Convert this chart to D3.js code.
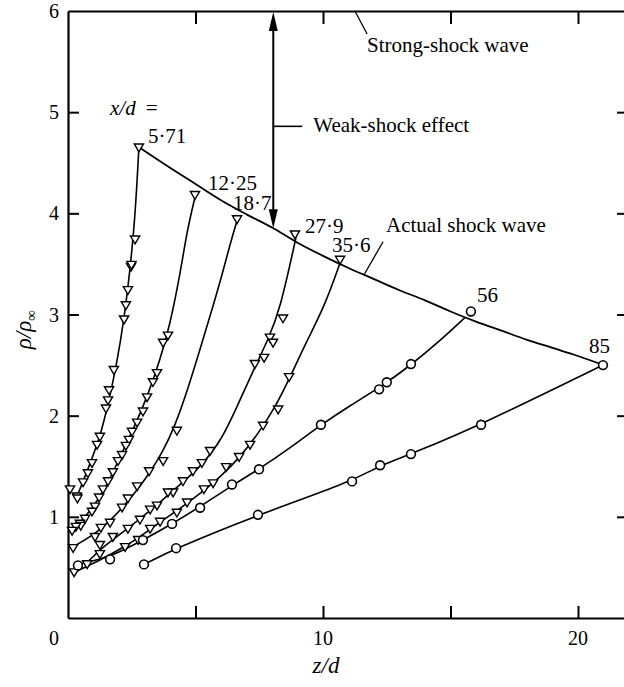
<!DOCTYPE html>
<html>
<head>
<meta charset="utf-8">
<script src="https://cdn.jsdelivr.net/npm/d3@7"></script>
<style>
  html, body { margin: 0; padding: 0; background: #fff; }
  svg { display: block; font-family: "Liberation Serif", "Times New Roman", serif; }
</style>
</head>
<body>
<svg id="chart" width="624" height="687"></svg>
<script>
// Density ratio rho/rho_inf across the flow (z/d) at several downstream stations x/d.

const xTicks = [5, 10, 15, 20];
const xTickLabels = [0, 10, 20];
const yTicks = [1, 2, 3, 4, 5];
const yTickLabels = [1, 2, 3, 4, 5, 6];

// Actual shock front, [z/d, rho/rho_inf]
const shockFront = [[2.80, 4.65], [4.0, 4.45], [5.0, 4.29], [6.0, 4.13], [7.0, 3.99], [8.0, 3.86],
  [9.0, 3.71], [10.0, 3.58], [11.0, 3.46], [12.0, 3.35], [13.0, 3.24], [14.0, 3.14], [15.0, 3.03],
  [16.0, 2.93], [17.0, 2.84], [18.0, 2.75], [19.0, 2.67], [20.0, 2.59], [21.0, 2.50]];

// Strong-shock limit and the z/d where the weak-shock effect is marked
const strongShockRho = 6;
const weakShockZ = 8.05;

// Station x/d = 5.71
const pts571 = [[2.78, 4.65], [2.63, 3.74], [2.47, 3.47], [2.49, 3.49], [2.35, 3.24], [2.27, 3.09],
  [2.20, 2.95], [1.80, 2.45], [1.61, 2.25], [1.57, 2.15], [1.49, 2.07], [1.25, 1.79], [1.14, 1.71],
  [0.94, 1.53], [0.78, 1.43], [0.59, 1.34], [0.35, 1.20], [0.37, 1.18], [0.08, 1.27]];
const fit571 = [[0.35, 1.20], [0.78, 1.47], [1.25, 1.78], [1.57, 2.11], [1.88, 2.47], [2.20, 2.95],
  [2.43, 3.44], [2.63, 3.95], [2.78, 4.65]];

// Station x/d = 12.25
const pts1225 = [[4.98, 4.18], [3.92, 2.79], [3.73, 2.72], [3.49, 2.42], [3.33, 2.33], [3.10, 2.18],
  [2.94, 2.04], [2.71, 1.93], [2.51, 1.84], [2.39, 1.76], [2.27, 1.70], [2.12, 1.61], [1.96, 1.55],
  [1.76, 1.44], [1.57, 1.35], [1.37, 1.27], [1.22, 1.19], [1.06, 1.10], [0.94, 1.05], [0.67, 0.98],
  [0.47, 0.93], [0.50, 0.91], [0.31, 0.90], [0.16, 0.86]];
const fit1225 = [[0.20, 0.87], [0.86, 1.05], [1.45, 1.27], [1.96, 1.55], [2.55, 1.86], [3.10, 2.18],
  [3.61, 2.55], [4.00, 2.90], [4.39, 3.39], [4.67, 3.83], [4.98, 4.16]];

// Station x/d = 18.7
const pts187 = [[6.63, 3.94], [4.27, 1.85], [3.73, 1.55], [3.18, 1.45], [2.71, 1.30], [2.35, 1.18],
  [2.12, 1.09], [1.65, 0.94], [1.29, 0.89], [1.06, 0.80], [0.20, 0.69]];
const fit187 = [[0.24, 0.71], [1.06, 0.83], [1.65, 0.96], [2.24, 1.12], [2.82, 1.30], [3.29, 1.47],
  [3.69, 1.63], [4.20, 1.90], [4.71, 2.27], [5.18, 2.66], [5.65, 3.05], [6.04, 3.39], [6.35, 3.69],
  [6.63, 3.93]];

// Station x/d = 27.9
const pts279 = [[8.90, 3.79], [8.43, 2.96], [7.92, 2.77], [8.04, 2.72], [7.69, 2.57], [7.33, 2.51],
  [5.57, 1.65], [5.25, 1.53], [4.90, 1.45], [4.51, 1.35], [4.12, 1.24], [3.92, 1.24], [3.49, 1.11],
  [3.22, 1.07], [2.82, 0.97], [2.35, 0.88], [1.76, 0.80], [1.25, 0.72]];
const fit279 = [[0.75, 0.55], [1.45, 0.72], [2.43, 0.90], [3.41, 1.10], [4.39, 1.32], [5.18, 1.49],
  [6.04, 1.76], [6.75, 2.16], [7.33, 2.48], [7.84, 2.75], [8.31, 3.04], [8.94, 3.76]];

// Station x/d = 35.6
const pts356 = [[10.67, 3.54], [8.67, 2.38], [8.24, 2.06], [7.65, 1.90], [7.14, 1.71], [6.71, 1.59],
  [6.20, 1.49], [5.69, 1.33], [5.33, 1.27], [4.67, 1.14], [4.27, 1.04], [3.61, 0.95], [3.22, 0.88],
  [2.75, 0.77], [2.24, 0.70], [1.25, 0.63], [0.75, 0.53], [0.24, 0.45]];
const fit356 = [[0.24, 0.45], [1.25, 0.57], [2.04, 0.68], [2.82, 0.80], [3.61, 0.95], [4.39, 1.08],
  [5.18, 1.23], [5.96, 1.39], [6.75, 1.59], [7.45, 1.82], [8.12, 2.08], [8.71, 2.38], [9.29, 2.70],
  [10.08, 3.09], [10.71, 3.54]];

// Station x/d = 56
const pts56 = [[0.39, 0.52], [1.65, 0.58], [2.94, 0.77], [4.08, 0.93], [5.18, 1.09], [6.43, 1.32],
  [7.49, 1.47], [9.92, 1.91], [12.20, 2.26], [12.50, 2.33], [13.45, 2.51], [15.80, 3.03]];
const fit56 = [[0.39, 0.53], [1.65, 0.60], [2.94, 0.77], [4.08, 0.93], [5.18, 1.10], [6.43, 1.31],
  [7.49, 1.47], [8.71, 1.68], [9.92, 1.91], [11.06, 2.10], [12.24, 2.28], [13.45, 2.50],
  [14.59, 2.74], [15.57, 2.97]];

// Station x/d = 85
const pts85 = [[2.98, 0.53], [4.24, 0.69], [7.45, 1.02], [11.14, 1.35], [12.24, 1.51], [13.45, 1.62],
  [16.20, 1.91], [20.98, 2.50]];

const stations = [
  { name: "5·71", pts: pts571, fit: fit571, mark: "tri", dx: 9, dy: -5 },
  { name: "12·25", pts: pts1225, fit: fit1225, mark: "tri", dx: 13, dy: -5 },
  { name: "18·7", pts: pts187, fit: fit187, mark: "tri", dx: -4, dy: -9 },
  { name: "27·9", pts: pts279, fit: fit279, mark: "tri", dx: 10, dy: -2 },
  { name: "35·6", pts: pts356, fit: fit356, mark: "tri", dx: -8, dy: -8 },
  { name: "56", pts: pts56, fit: fit56, mark: "circ", dx: 6, dy: -9 },
  { name: "85", pts: pts85, fit: pts85, mark: "circ", dx: -14, dy: -12 }
];

const svg = d3.select("#chart");
const x = d3.scaleLinear().domain([0, 22]).range([68, 629]);
const y = d3.scaleLinear().domain([0, 6]).range([618, 11]);

// ---- frame and ticks (all ticks point inward) ----
function styleAxis(g) {
  g.select(".domain").attr("stroke", "#000").attr("stroke-width", 2.2);
  g.selectAll(".tick line").attr("stroke", "#000").attr("stroke-width", 2);
}
svg.append("g").attr("transform", `translate(0,${y(0)})`)
  .call(d3.axisBottom(x).tickValues(xTicks).tickSize(-12).tickSizeOuter(0).tickFormat(""))
  .call(styleAxis);
svg.append("g").attr("transform", `translate(0,${y(6)})`)
  .call(d3.axisTop(x).tickValues(xTicks).tickSize(-13).tickSizeOuter(0).tickFormat(""))
  .call(styleAxis);
svg.append("g").attr("transform", `translate(${x(0)},0)`)
  .call(d3.axisLeft(y).tickValues(yTicks).tickSize(-11).tickSizeOuter(0).tickFormat(""))
  .call(styleAxis);
svg.append("g").attr("transform", `translate(${x(22)},0)`)
  .call(d3.axisRight(y).tickValues(yTicks).tickSize(-12).tickSizeOuter(0).tickFormat(""))
  .call(styleAxis);

// tick labels
svg.append("g").selectAll("text").data(yTickLabels).join("text")
  .attr("x", x(0) - 9).attr("y", d => y(d)).attr("dy", "0.35em")
  .attr("text-anchor", "end").attr("font-size", 20).text(d => d);
svg.append("g").selectAll("text").data(xTickLabels).join("text")
  .attr("x", d => d === 0 ? x(0) - 14 : x(d)).attr("y", 645)
  .attr("text-anchor", "middle").attr("font-size", 20).text(d => d);

// axis titles
svg.append("text").attr("x", x(10) + 3).attr("y", 673).attr("text-anchor", "middle")
  .attr("font-size", 23).attr("font-style", "italic").text("z/d");
const yt = svg.append("text").attr("transform", `translate(31,${y(2.85)}) rotate(-90)`)
  .attr("text-anchor", "middle").attr("font-size", 23);
yt.append("tspan").attr("font-style", "italic").text("ρ/ρ");
yt.append("tspan").attr("font-size", 15).attr("dy", 5).text("∞");

// ---- curves (smoothed through the traced points) ----
const smooth = d3.line().x(d => x(d[0])).y(d => y(d[1])).curve(d3.curveBasis);
const through = d3.line().x(d => x(d[0])).y(d => y(d[1])).curve(d3.curveMonotoneX);

svg.append("path").datum(shockFront).attr("d", through)
  .attr("fill", "none").attr("stroke", "#000").attr("stroke-width", 1.8);

const curves = svg.append("g");
stations.forEach(s => {
  curves.append("path").datum(s.fit).attr("d", smooth)
    .attr("fill", "none").attr("stroke", "#000").attr("stroke-width", 1.6);
});

// ---- markers ----
const triPath = "M-4.6,-3.6L4.6,-3.6L0,4.2Z";
const marks = svg.append("g");
stations.forEach(s => {
  if (s.mark === "tri") {
    marks.append("g").selectAll("path").data(s.pts).join("path")
      .attr("transform", d => `translate(${x(d[0])},${y(d[1])})`)
      .attr("d", triPath).attr("fill", "#fff").attr("stroke", "#000").attr("stroke-width", 1.4);
  } else {
    marks.append("g").selectAll("circle").data(s.pts).join("circle")
      .attr("cx", d => x(d[0])).attr("cy", d => y(d[1])).attr("r", 4.4)
      .attr("fill", "#fff").attr("stroke", "#000").attr("stroke-width", 1.6);
  }
});

// station labels next to each outermost point
svg.append("g").selectAll("text").data(stations).join("text")
  .attr("x", s => x(s.pts[s.mark === "tri" ? 0 : s.pts.length - 1][0]) + s.dx)
  .attr("y", s => y(s.pts[s.mark === "tri" ? 0 : s.pts.length - 1][1]) + s.dy)
  .attr("font-size", 21).text(s => s.name);

const xd = svg.append("text").attr("x", 110).attr("y", 115).attr("font-size", 21);
xd.append("tspan").attr("font-style", "italic").text("x/d");
xd.append("tspan").attr("dx", 10).text("=");

// ---- weak-shock effect: double arrow from strong-shock limit down to actual shock ----
const shockAt = z => {
  const i = d3.bisector(d => d[0]).left(shockFront, z);
  const a = shockFront[i - 1], b = shockFront[i];
  return a[1] + (b[1] - a[1]) * (z - a[0]) / (b[0] - a[0]);
};
const ax = x(weakShockZ), aTop = y(strongShockRho) + 1, aBot = y(shockAt(weakShockZ));
svg.append("line").attr("x1", ax).attr("x2", ax).attr("y1", aTop + 10).attr("y2", aBot - 10)
  .attr("stroke", "#000").attr("stroke-width", 2);
svg.append("path").attr("d", `M${ax},${aTop}L${ax - 4.5},${aTop + 19}L${ax + 4.5},${aTop + 19}Z`).attr("fill", "#000");
svg.append("path").attr("d", `M${ax},${aBot}L${ax - 4.5},${aBot - 19}L${ax + 4.5},${aBot - 19}Z`).attr("fill", "#000");
const leadY = y(4.86);
svg.append("line").attr("x1", ax).attr("x2", ax + 29).attr("y1", leadY).attr("y2", leadY)
  .attr("stroke", "#000").attr("stroke-width", 1.6);
svg.append("text").attr("x", ax + 40).attr("y", leadY + 6).attr("font-size", 21).text("Weak-shock effect");

// ---- strong-shock wave label (leader to the upper limit line) ----
svg.append("line").attr("x1", x(11.25)).attr("y1", y(strongShockRho)).attr("x2", x(11.73)).attr("y2", y(strongShockRho) + 23)
  .attr("stroke", "#000").attr("stroke-width", 1.3);
svg.append("text").attr("x", x(11.73)).attr("y", 52).attr("font-size", 21).text("Strong-shock wave");

// ---- actual shock wave label ----
const lz = 11.61;
svg.append("line").attr("x1", x(lz)).attr("y1", y(shockAt(lz))).attr("x2", x(lz) + 19).attr("y2", y(shockAt(lz)) - 33)
  .attr("stroke", "#000").attr("stroke-width", 1.3);
svg.append("text").attr("x", x(lz) + 22).attr("y", 232).attr("font-size", 21).text("Actual shock wave");
</script>
</body>
</html>
